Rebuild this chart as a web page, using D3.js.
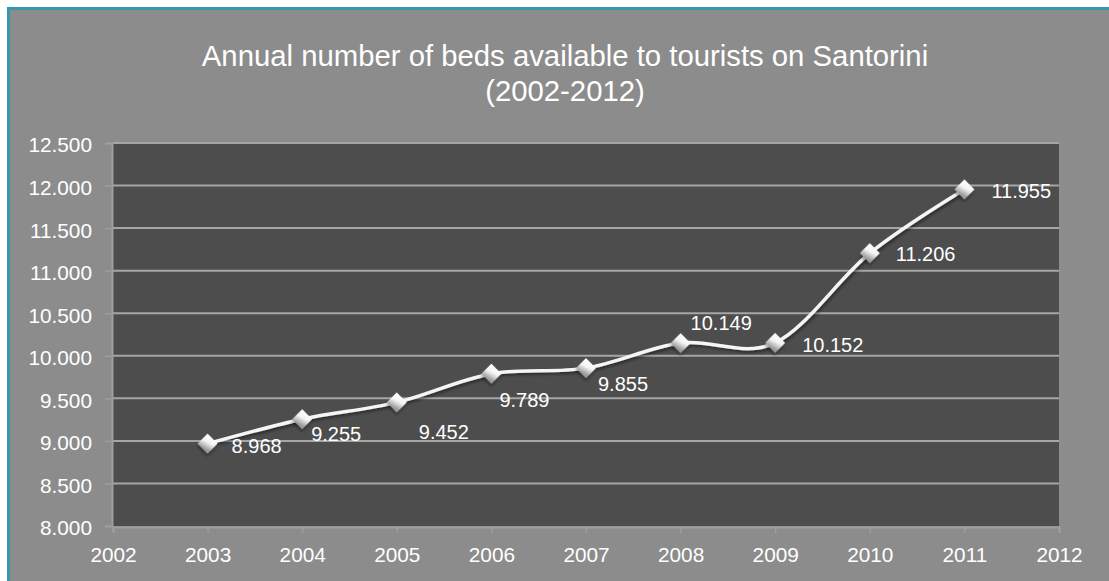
<!DOCTYPE html>
<html>
<head>
<meta charset="utf-8">
<script src="https://cdn.jsdelivr.net/npm/d3@7"></script>
<style>
  html, body { margin: 0; padding: 0; background: #ffffff; overflow: hidden; }
  svg { display: block; font-family: "Liberation Sans", Arial, sans-serif; }
</style>
</head>
<body>
<svg id="chart" width="1109" height="581"></svg>
<script>
// Beds available to tourists on Santorini, per year
const years = [2003, 2004, 2005, 2006, 2007, 2008, 2009, 2010, 2011];
const beds = [8968, 9255, 9452, 9789, 9855, 10149, 10152, 11206, 11955];
const xTicks = [2002, 2003, 2004, 2005, 2006, 2007, 2008, 2009, 2010, 2011, 2012];
const yTicks = [8000, 8500, 9000, 9500, 10000, 10500, 11000, 11500, 12000, 12500];
const titleLines = ["Annual number of beds available to tourists on Santorini", "(2002-2012)"];

// Label placement relative to each point: [dx to left edge, dy to text centre]
const labelOffsets = [[24, 2], [9, 15], [22, 29], [8, 26], [12, 16], [10, -20], [27, 2], [26, 1], [27, 1]];

const svg = d3.select("#chart");
const W = 1109, H = 581;
const plot = { left: 113, top: 143, right: 1059, bottom: 526 };

const locale = d3.formatLocale({ decimal: ",", thousands: ".", grouping: [3], currency: ["", "€"] });
const fmt = locale.format(",d");

// Frame
svg.append("rect").attr("x", 0).attr("y", 0).attr("width", W).attr("height", H).attr("fill", "#ffffff");
svg.append("rect")
  .attr("x", 8.5).attr("y", 8.5).attr("width", W + 20).attr("height", H + 20)
  .attr("fill", "#8c8c8c").attr("stroke", "#3497ad").attr("stroke-width", 3);

// Title
const title = svg.append("text").attr("text-anchor", "middle").attr("fill", "#ffffff")
  .attr("font-size", 29.3);
titleLines.forEach((t, i) => {
  title.append("tspan").attr("x", 565).attr("y", 66 + i * 35).text(t);
});

const x = d3.scaleLinear().domain([2002, 2012]).range([plot.left, plot.right]);
const y = d3.scaleLinear().domain([8000, 12500]).range([plot.bottom, plot.top]);

// Plot area
svg.append("rect")
  .attr("x", plot.left).attr("y", plot.top)
  .attr("width", plot.right - plot.left).attr("height", plot.bottom - plot.top)
  .attr("fill", "#4d4d4d");

// Horizontal gridlines
svg.append("g").selectAll("line")
  .data(yTicks.filter(v => v > 8000))
  .join("line")
  .attr("x1", plot.left).attr("x2", plot.right)
  .attr("y1", d => y(d)).attr("y2", d => y(d))
  .attr("stroke", "#a6a6a6").attr("stroke-width", 2);

// Axes
const yAxis = svg.append("g")
  .attr("transform", `translate(${plot.left - 1},0)`)
  .call(d3.axisLeft(y).tickValues(yTicks).tickFormat(fmt).tickSize(7).tickPadding(13));
const xAxis = svg.append("g")
  .attr("transform", `translate(0,${plot.bottom + 1})`)
  .call(d3.axisBottom(x).tickValues(xTicks).tickFormat(d3.format("d")).tickSize(6).tickPadding(14));

[yAxis, xAxis].forEach(g => {
  g.select(".domain").attr("stroke", "#9e9e9e").attr("stroke-width", 2);
  g.selectAll(".tick line").attr("stroke", "#9e9e9e").attr("stroke-width", 1.5);
  g.selectAll(".tick text").attr("fill", "#ffffff").attr("font-size", 20.8)
    .attr("font-family", "'Liberation Sans', Arial, sans-serif");
});
yAxis.selectAll(".tick text").attr("dy", "0.43em");
xAxis.selectAll(".tick text").attr("dy", "0.71em");

// Defs: marker shading and shadow
const defs = svg.append("defs");
const grad = defs.append("linearGradient").attr("id", "markerFill")
  .attr("x1", "0").attr("y1", "0").attr("x2", "0.3").attr("y2", "1");
grad.append("stop").attr("offset", "0").attr("stop-color", "#ffffff");
grad.append("stop").attr("offset", "0.5").attr("stop-color", "#f4f4f4");
grad.append("stop").attr("offset", "1").attr("stop-color", "#9a9a9a");
const shadow = defs.append("filter").attr("id", "shadow")
  .attr("x", "-50%").attr("y", "-50%").attr("width", "200%").attr("height", "200%");
shadow.append("feDropShadow").attr("dx", 1.5).attr("dy", 2).attr("stdDeviation", 1.5)
  .attr("flood-color", "#000000").attr("flood-opacity", 0.45);

const points = years.map((yr, i) => ({ year: yr, value: beds[i], off: labelOffsets[i] }));

// Smoothed line
const line = d3.line()
  .x(d => x(d.year)).y(d => y(d.value))
  .curve(d3.curveCardinal.tension(0));
svg.append("path")
  .datum(points)
  .attr("d", line)
  .attr("fill", "none").attr("stroke", "#f5f5f5").attr("stroke-width", 3.5)
  .attr("filter", "url(#shadow)");

// Diamond markers
const diamond = d3.symbol().type(d3.symbolSquare).size(200);
svg.append("g").selectAll("path")
  .data(points)
  .join("path")
  .attr("d", diamond)
  .attr("transform", d => `translate(${x(d.year)},${y(d.value)}) rotate(45)`)
  .attr("fill", "url(#markerFill)")
  .attr("filter", "url(#shadow)");

// Value labels
svg.append("g").selectAll("text")
  .data(points)
  .join("text")
  .attr("x", d => x(d.year) + d.off[0])
  .attr("y", d => y(d.value) + d.off[1])
  .attr("dy", "0.36em")
  .attr("fill", "#ffffff").attr("font-size", 20)
  .text(d => fmt(d.value));
</script>
</body>
</html>
